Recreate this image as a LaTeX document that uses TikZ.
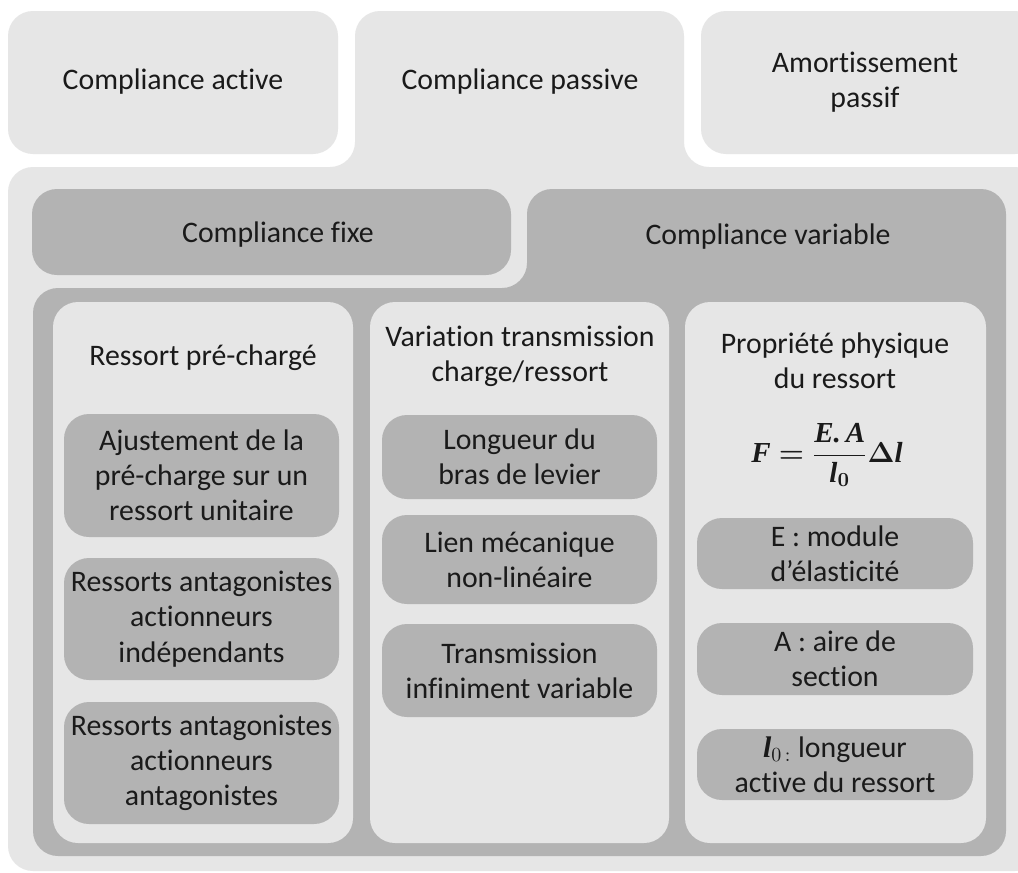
\documentclass[tikz,border=0pt]{standalone}
\usepackage{amsmath,bm}
\usepackage{fontspec}
\setmainfont{Carlito}[Ligatures={TeX,NoCommon}]
\newfontfamily\formfont{Liberation Serif}
\usepackage{tikz}
\usetikzlibrary{positioning}

\definecolor{paleGrey}{HTML}{E6E6E6}
\definecolor{midGrey}{HTML}{B3B3B3}
\definecolor{inkGrey}{HTML}{1A1A1A}

\newcommand{\bi}[1]{\textbf{\textit{#1}}}

\begin{document}
\begin{tikzpicture}[x=0.5pt, y=-0.5pt,
    txt/.style={align=center, text=inkGrey, font=\fontsize{14.9}{17.6}\selectfont, inner sep=0pt},
    palebox/.style={fill=paleGrey, rounded corners=12.5pt},
    midbox/.style={fill=midGrey, rounded corners=12.5pt},
    item/.style={txt, fill=midGrey, rounded corners=12.5pt, minimum width=137.5pt}]
    \useasboundingbox[fill=white] (0,0) rectangle (1018,873);

    % niveau 1
    \fill[palebox] (8,11) rectangle (338,154);
    \fill[palebox] (701,11) rectangle (1040,154);
    \fill[palebox] (355,11) -- (684,11) -- (684,167) -- (1040,167) -- (1040,871)
        -- (8,871) -- (8,167) -- (355,167) -- cycle;
    \node[txt] (active) at (173,82) {Compliance active};
    \node[txt] (passive) at (520,82) {Compliance passive};
    \node[txt] (amort) at (865,82) {Amortissement\\passif};

    % niveau 2
    \fill[midbox] (32,189) rectangle (511,275);
    \fill[midbox] (527,189) -- (1006,189) -- (1006,856) -- (33,856) -- (33,288)
        -- (527,288) -- cycle;
    \node[txt] (fixe) at (278,235) {Compliance fixe};
    \node[txt] (variable) at (768,237) {Compliance variable};

    % colonnes
    \fill[palebox] (53,302) rectangle (353,843);
    \fill[palebox] (370,302) rectangle (669,843);
    \fill[palebox] (685,302) rectangle (986,843);

    \node[txt] (precharge) at (203,358) {Ressort pré-chargé};
    \node[txt] (transmission) at (520,356) {Variation transmission\\charge/ressort};
    \node[txt] (propriete) at (835,361) {Propriété physique\\du ressort};
    \node[txt, font=\formfont\fontsize{14.5}{17}\selectfont] (formule) at (827,455)
        {$\bi{F} \mathrel{\bm{=}} \dfrac{\bi{E.\,A}}{\bi{l}_{\bm{0}}}\bm{\Delta}\bi{l}$};

    \node[item, minimum height=61.5pt] (ajust) at (201.5,475.5)
        {Ajustement de la\\pré-charge sur un\\ressort unitaire};
    \node[item, minimum height=61pt] (indep) at (201.5,619)
        {Ressorts antagonistes\\actionneurs\\indépendants};
    \node[item, minimum height=61pt] (antag) at (201.5,763)
        {Ressorts antagonistes\\actionneurs\\antagonistes};

    \node[item, minimum height=42pt] (levier) at (519.5,457)
        {Longueur du\\bras de levier};
    \node[item, minimum height=44.5pt] (lien) at (519.5,559.5)
        {Lien mécanique\\non-linéaire};
    \node[item, minimum height=46.5pt] (infini) at (519.5,670.5)
        {Transmission\\infiniment variable};

    \node[item, minimum height=35.5pt, minimum width=138pt] (module) at (835,553.5)
        {E : module\\d’élasticité};
    \node[item, minimum height=36pt, minimum width=138pt] (aire) at (835,659)
        {A : aire de\\section};
    \node[item, minimum height=35.5pt, minimum width=138pt] (longueur) at (835,764.5)
        {{\formfont\bi{l}}$_{0\,:}$ longueur\\active du ressort};
\end{tikzpicture}
\end{document}
